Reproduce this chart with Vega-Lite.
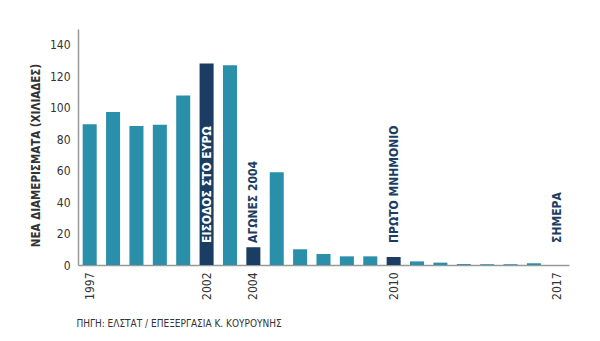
{
  "$schema": "https://vega.github.io/schema/vega-lite/v6.json",
  "autosize": {"type": "none"},
  "width": 491,
  "height": 236,
  "padding": {"left": 78, "top": 29, "right": 31, "bottom": 76},
  "background": "white",
  "config": {
    "view": {"stroke": null},
    "font": "Liberation Sans Narrow, DejaVu Sans Condensed, Roboto"
  },
  "title": {
    "text": "ΠΗΓΗ: ΕΛΣΤΑΤ / ΕΠΕΞΕΡΓΑΣΙΑ Κ. ΚΟΥΡΟΥΝΗΣ",
    "orient": "bottom",
    "anchor": "start",
    "offset": 20,
    "dx": 46,
    "fontSize": 10,
    "fontWeight": "normal",
    "color": "#333333",
    "font": "Liberation Sans Narrow, DejaVu Sans Condensed, Roboto"
  },
  "data": {
    "values": [
      {"year": 1997, "value": 89.5, "event": "", "highlight": false},
      {"year": 1998, "value": 97.2, "event": "", "highlight": false},
      {"year": 1999, "value": 88.3, "event": "", "highlight": false},
      {"year": 2000, "value": 89.1, "event": "", "highlight": false},
      {"year": 2001, "value": 107.8, "event": "", "highlight": false},
      {"year": 2002, "value": 128, "event": "ΕΙΣΟΔΟΣ ΣΤΟ ΕΥΡΩ", "highlight": true},
      {"year": 2003, "value": 126.9, "event": "", "highlight": false},
      {"year": 2004, "value": 11.3, "event": "ΑΓΩΝΕΣ 2004", "highlight": true},
      {"year": 2005, "value": 59, "event": "", "highlight": false},
      {"year": 2006, "value": 10, "event": "", "highlight": false},
      {"year": 2007, "value": 7, "event": "", "highlight": false},
      {"year": 2008, "value": 5.5, "event": "", "highlight": false},
      {"year": 2009, "value": 5.5, "event": "", "highlight": false},
      {"year": 2010, "value": 5.1, "event": "ΠΡΩΤΟ ΜΝΗΜΟΝΙΟ", "highlight": true},
      {"year": 2011, "value": 2.3, "event": "", "highlight": false},
      {"year": 2012, "value": 1.5, "event": "", "highlight": false},
      {"year": 2013, "value": 0.6, "event": "", "highlight": false},
      {"year": 2014, "value": 0.5, "event": "", "highlight": false},
      {"year": 2015, "value": 0.5, "event": "", "highlight": false},
      {"year": 2016, "value": 1.1, "event": "", "highlight": false},
      {"year": 2017, "value": 0, "event": "ΣΗΜΕΡΑ", "highlight": false}
    ]
  },
  "resolve": {"axis": {"y": "independent"}},
  "encoding": {
    "x": {
      "field": "year",
      "type": "ordinal",
      "scale": {"paddingInner": 0.4, "paddingOuter": 0.2},
      "axis": {
        "title": null,
        "values": [1997, 2002, 2004, 2010, 2017],
        "labelAngle": 270,
        "labelFontSize": 12,
        "labelColor": "#333333",
        "labelPadding": 7,
        "labelOverlap": false,
        "ticks": false,
        "domainColor": "#999999",
        "domainWidth": 1.5,
        "grid": false
      }
    }
  },
  "layer": [
    {
      "mark": {"type": "bar"},
      "encoding": {
        "y": {
          "field": "value",
          "type": "quantitative",
          "scale": {"domain": [0, 150], "nice": false},
          "axis": {
            "title": "ΝΕΑ ΔΙΑΜΕΡΙΣΜΑΤΑ (ΧΙΛΙΑΔΕΣ)",
            "titleFontSize": 11.5,
            "titleFontWeight": "bold",
            "titleColor": "#333333",
            "titlePadding": 8,
            "titleY": 126,
            "values": [0, 20, 40, 60, 80, 100, 120, 140],
            "labelOverlap": false,
            "labelFontSize": 12,
            "labelColor": "#333333",
            "labelPadding": 8,
            "ticks": false,
            "grid": false,
            "domainColor": "#999999",
            "domainWidth": 1.5
          }
        },
        "color": {
          "field": "highlight",
          "type": "nominal",
          "scale": {"domain": [false, true], "range": ["#2a8fa8", "#1c3d63"]},
          "legend": null
        }
      }
    },
    {
      "transform": [{"filter": "datum.event != ''"}],
      "mark": {
        "type": "text",
        "angle": 270,
        "align": "left",
        "baseline": "middle",
        "fontSize": 12,
        "fontWeight": "bold"
      },
      "encoding": {
        "y": {"datum": 14, "type": "quantitative", "axis": null},
        "text": {"field": "event"},
        "color": {
          "condition": {"test": "datum.year == 2002", "value": "#ffffff"},
          "value": "#1c3d63"
        }
      }
    }
  ]
}
